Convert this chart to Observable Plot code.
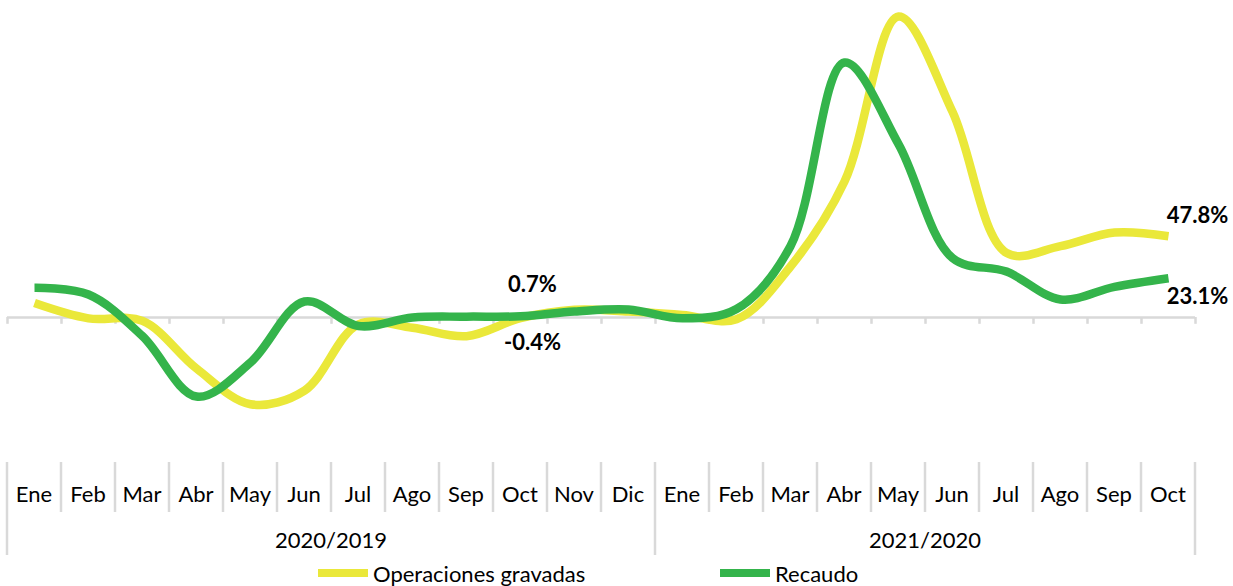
<!DOCTYPE html>
<html><head><meta charset="utf-8">
<script src="https://cdn.jsdelivr.net/npm/d3@7"></script>
<script src="https://cdn.jsdelivr.net/npm/@observablehq/plot@0.6"></script>
<style>
body{margin:0;background:#fff;font-family:Lato,sans-serif;}
#legend{position:relative;height:26px;width:1233px;}
.item{position:absolute;top:0;height:26px;display:flex;align-items:center;font-size:22px;color:#000;white-space:nowrap;}
.sw{width:50px;height:8px;margin-right:5px;}
</style></head><body>
<div id="chart"></div>
<div id="legend"></div>
<script>
const months = ["Ene","Feb","Mar","Abr","May","Jun","Jul","Ago","Sep","Oct","Nov","Dic",
                "Ene","Feb","Mar","Abr","May","Jun","Jul","Ago","Sep","Oct"];
const periods = ["2020/2019","2021/2020"];
const periodMonths = [12, 10];
const seriesNames = ["Operaciones gravadas","Recaudo"];
const seriesColors = ["#EAE83A","#34B44B"];
const operaciones = [8.5, -0.5, -2, -30, -51, -43, -4, -6, -11, -0.4, 4.5, 3.5, 1.5, -1, 30, 80, 177, 121, 38, 42, 50, 47.8];
const recaudo     = [17.5, 13.5, -11, -46.5, -26.5, 9.4, -5, 0, 0.5, 0.7, 3.5, 4.7, -0.5, 5, 42, 150, 102, 35, 27, 10.6, 18, 23.1];
const labelIndex  = [21, 21, 9, 9];
const labelValue  = [47.8, 23.1, 0.7, -0.4];
const labelText   = ["47.8%","23.1%","0.7%","-0.4%"];

const n = months.length;
const rows = [];
[operaciones, recaudo].forEach((vals, s) => vals.forEach((v, i) => rows.push({i, series: seriesNames[s], value: v})));
const labels = labelText.map((t, k) => ({i: labelIndex[k], value: labelValue[k], text: t}));
const boundaries = d3.range(n + 1).map(i => i - 0.5);
const labelOffsets = [[29, -20], [29, 19], [12, -31], [12, 25]];

function tableMark(index, {x}, values, {height, marginBottom}) {
  const top = height - marginBottom;
  const g = d3.create("svg:g").attr("font-family", "Lato").attr("font-size", 22).attr("fill", "#000");
  const big = [-0.5];
  let acc = 0;
  periodMonths.forEach(c => { acc += c; big.push(acc - 0.5); });
  boundaries.forEach(b => {
    g.append("line").attr("x1", x(b)).attr("x2", x(b))
      .attr("y1", top).attr("y2", top + (big.includes(b) ? 93 : 50))
      .attr("stroke", "#d9d9d9").attr("stroke-width", 2.5);
  });
  months.forEach((m, i) => {
    g.append("text").attr("x", x(i)).attr("y", top + 32).attr("dy", "0.35em")
      .attr("text-anchor", "middle").text(m);
  });
  let s = 0;
  periods.forEach((p, k) => {
    const e = s + periodMonths[k] - 1;
    g.append("text").attr("x", x((s + e) / 2)).attr("y", top + 78).attr("dy", "0.35em")
      .attr("text-anchor", "middle").text(p);
    s = e + 1;
  });
  return g.node();
}

const chart = Plot.plot({
  width: 1233, height: 560,
  marginLeft: 7, marginRight: 38, marginTop: 0, marginBottom: 98,
  x: {domain: [-0.5, n - 0.5], axis: null},
  y: {domain: [0, 100], range: [317, 147], axis: null},
  color: {domain: seriesNames, range: seriesColors},
  style: {fontFamily: "Lato", fontSize: "22px", background: "white", overflow: "visible"},
  marks: [
    Plot.ruleY([0], {x1: -0.5, x2: n - 0.5, stroke: "#d9d9d9", strokeWidth: 2.5}),
    Plot.ruleX(boundaries, {x: d => d, y1: 0, y2: -4, stroke: "#d9d9d9", strokeWidth: 2.5}),
    Plot.line(rows, {x: "i", y: "value", z: "series", stroke: "series", curve: "catmull-rom", strokeWidth: 8.5, strokeLinecap: "butt"}),
    ...labels.map((l, k) => Plot.text([l], {x: "i", y: "value", text: "text", dx: labelOffsets[k][0], dy: labelOffsets[k][1], fontWeight: "bold", fill: "#000", fontSize: 22})),
    tableMark
  ]
});
document.getElementById("chart").appendChild(chart);

const legend = document.getElementById("legend");
const legendLeft = [318, 720];
seriesNames.forEach((name, k) => {
  const item = document.createElement("div");
  item.className = "item";
  item.style.left = legendLeft[k] + "px";
  const sw = document.createElement("span");
  sw.className = "sw";
  sw.style.background = seriesColors[k];
  const t = document.createElement("span");
  t.textContent = name;
  item.appendChild(sw); item.appendChild(t);
  legend.appendChild(item);
});
</script>
</body></html>
